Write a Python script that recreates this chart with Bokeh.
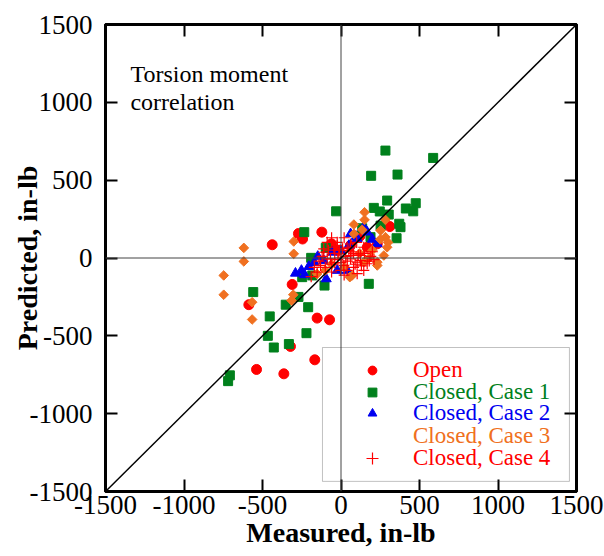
import math
from bokeh.plotting import figure
from bokeh.models import (LinearAxis, FixedTicker, Span, Slope, Label, Legend, LegendItem,
                          BoxAnnotation, Range1d)
from bokeh.embed import file_html
from bokeh.resources import INLINE

# ---------------- data (measured vs predicted torsion moment, in-lb) ----------------
open_x = [-438, -271, -245, -122, -61, 311, -311, -587, -152, -73, -322, -167, -538, -364, -20, 60, 167, 231, 120]
open_y = [85, 157, 122, 166, 91, 202, -170, -300, -386, -397, -568, -654, -716, -744, 50, 80, 69, 91, 140]

case1_x = [283, 587, 192, 360, 294, 209, 247, 304, 413, 476, 460, 371, 379, 354, -31, -234, -190, -97,
           -559, -352, -209, -454, -466, -428, -332, -220, -708, -719, 177, -105, -271, -247, -183, 252, 188, 135]
case1_y = [690, 643, 528, 536, 369, 322, 299, 279, 318, 352, 300, 220, 198, 127, 300, 166, 1, 65,
           -219, -300, -316, -375, -500, -575, -553, -483, -754, -791, -166, -177, -250, -123, -112, 208, 134, 191]

case2_x = [-290, -252, -205, -232, -148, -94, 61, 145, 167, 231, 103, 50, -3, -56, -110, -24, 39, 97, 200, -170]
case2_y = [-98, -80, -55, -108, 10, -134, 155, 198, 166, 91, 123, 80, 48, 37, -16, -80, -80, 138, 120, -30]

case3_x = [-619, -619, -301, -301, 150, 150, 82, 283, 252, 283, 294, 273, 231, 135, -747, -747, -566, -566,
           -304, -315, 56, 231, -152, 71, 145, 82, -100, 200, 180, 120, 250, 300, 20, -60]
case3_y = [65, -22, 106, 27, 294, 245, 215, 245, 177, 134, 69, 16, -27, 181, -112, -236, -284, -395,
           -236, -273, -123, -48, -102, -112, -27, 155, -80, 50, 0, 30, 120, 100, -60, -40]

case4_x = [-130, -67, -14, 61, 103, 18, -46, 39, 124, -88, -152, 145, -3, -24, 50, -110, -24, 10, 61, 124,
           167, 145, -110, -88, 39, 103, 0, 80, -40, 190, -60, 20,
           -170, -140, -100, -60, -20, 30, 70, 90, 110, 150, 180, 200, -80, -40, 0, 40, 80, -120, -10, 60,
           100, 130, 210, -60, -190, 20]
case4_y = [-48, -5, 27, -5, -27, -48, 69, 69, 16, 101, -91, -80, -80, 101, 48, 37, 80, 60, 16, -16,
           -37, 69, 59, -5, -80, -101, 0, 30, -30, 10, 130, 130,
           -60, -20, -60, -40, -10, 10, 40, -40, 20, 30, -20, 40, 50, 30, -30, -20, -60, 10, 50, 90,
           100, -50, -10, -90, -120, -110]

ticks = [-1500, -1000, -500, 0, 500, 1000, 1500]
tick_labels = ["-1500", "-1000", "-500", "0", "500", "1000", "1500"]
series_names = ["Open", "Closed, Case 1", "Closed, Case 2", "Closed, Case 3", "Closed, Case 4"]

FONT = "Liberation Serif"
RED = "#ff0000"
GREEN = "#00801c"
BLUE = "#0000f0"
ORANGE = "#f07020"

p = figure(width=604, height=556, output_backend="svg", toolbar_location=None,
           x_range=Range1d(-1500, 1500), y_range=Range1d(-1500, 1500),
           min_border_left=105, min_border_right=28, min_border_top=24, min_border_bottom=65)
p.grid.visible = False
p.outline_line_color = "black"
p.outline_line_width = 3
p.background_fill_color = "white"
p.border_fill_color = "white"

def style_axis(ax, labels=True):
    ax.ticker = FixedTicker(ticks=ticks)
    ax.axis_line_width = 3
    ax.major_tick_in = 12
    ax.major_tick_out = 0
    ax.major_tick_line_width = 2
    ax.minor_tick_line_color = None
    if labels:
        ax.major_label_overrides = {t: s for t, s in zip(ticks, tick_labels)}
        ax.major_label_text_font = FONT
        ax.major_label_text_font_size = "27px"
        ax.major_label_text_color = "black"
        ax.axis_label_text_font = FONT
        ax.axis_label_text_font_style = "bold"
        ax.axis_label_text_font_size = "28px"
        ax.axis_label_text_color = "black"
    else:
        ax.major_label_overrides = {t: "" for t in ticks}
        ax.major_label_text_font_size = "0px"
        ax.major_label_standoff = 0

style_axis(p.xaxis[0])
style_axis(p.yaxis[0])
p.xaxis.axis_label = "Measured, in-lb"
p.yaxis.axis_label = "Predicted, in-lb"
p.xaxis.major_label_standoff = 4
p.xaxis.axis_label_standoff = 0
p.yaxis.major_label_standoff = 13
p.yaxis.axis_label_standoff = -16

top_ax = LinearAxis()
style_axis(top_ax, labels=False)
p.add_layout(top_ax, "above")
right_ax = LinearAxis()
style_axis(right_ax, labels=False)
p.add_layout(right_ax, "right")

# zero lines and 1:1 line
p.add_layout(Span(location=0, dimension="width", line_color="#444444", line_width=1))
p.add_layout(Span(location=0, dimension="height", line_color="#444444", line_width=1))
p.add_layout(Slope(gradient=1, y_intercept=0, line_color="black", line_width=1.5))

r_open = p.scatter(open_x, open_y, marker="circle", size=10, fill_color=RED, line_color=RED)
r_c1 = p.scatter(case1_x, case1_y, marker="square", size=9, fill_color=GREEN, line_color=GREEN)
r_c2 = p.scatter(case2_x, case2_y, marker="triangle", size=10, fill_color=BLUE, line_color=BLUE)
r_c3 = p.scatter(case3_x, case3_y, marker="square", angle=math.pi / 4, size=6.8,
                 fill_color=ORANGE, line_color=ORANGE)
r_c4 = p.scatter(case4_x, case4_y, marker="cross", size=11, line_color=RED, line_width=1.2)
# legend swatch for the diamonds (no data of its own)
r_c3_key = p.scatter(x=[], y=[], marker="diamond", size=11, fill_color=ORANGE, line_color=ORANGE)

# annotation text
p.add_layout(Label(x=-1341, y=1184, text="Torsion moment", text_font=FONT, text_font_size="24px",
                   text_baseline="alphabetic", text_color="black"))
p.add_layout(Label(x=-1341, y=1005, text="correlation", text_font=FONT, text_font_size="24px",
                   text_baseline="alphabetic", text_color="black"))

# legend frame
p.add_layout(BoxAnnotation(left=-118, right=1455, top=-575, bottom=-1435,
                           fill_alpha=0, line_color="#333333", line_width=1))

renderers = [r_open, r_c1, r_c2, r_c3_key, r_c4]
colors = [RED, GREEN, BLUE, ORANGE, RED]
row_bottoms = [106, 84, 63, 40, 18]
glyph_widths = [22, 22, 22, 26, 32]
for name, rend, col, vy, gw in zip(series_names, renderers, colors, row_bottoms, glyph_widths):
    vx = 267 - gw // 2
    standoff = 308 - vx - gw
    leg = Legend(items=[LegendItem(label=name, renderers=[rend])], location=(vx, vy),
                 padding=0, margin=0, spacing=0, glyph_width=gw, glyph_height=30, label_height=30,
                 label_standoff=standoff, label_text_font=FONT, label_text_font_size="23px",
                 label_text_color=col, background_fill_alpha=0, border_line_alpha=0)
    p.add_layout(leg, "center")

open("out.html", "w").write(file_html(p, INLINE))
